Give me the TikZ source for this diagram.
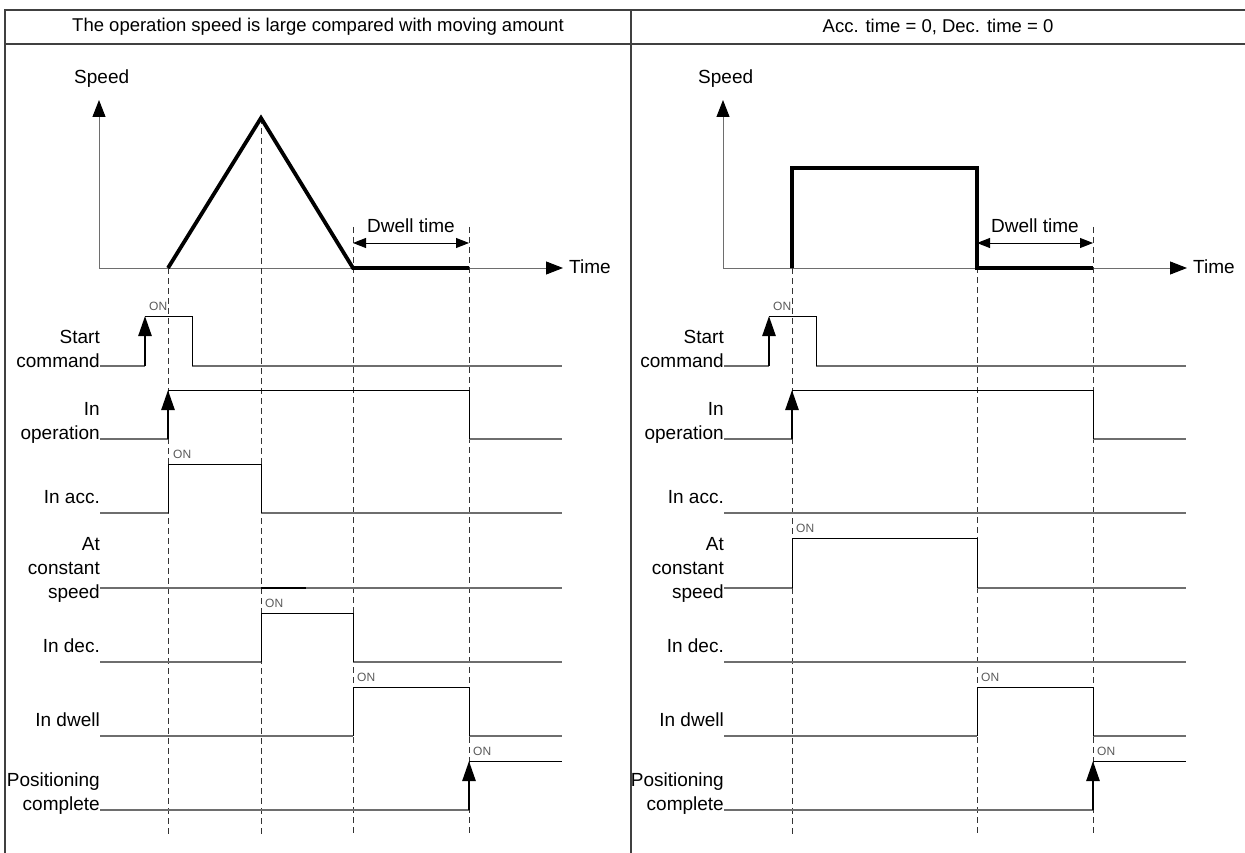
\documentclass[tikz,border=0pt]{standalone}
\usepackage{fontspec}
\setmainfont{Liberation Sans}
\usetikzlibrary{arrows.meta}
\definecolor{sigline}{HTML}{6E6E6E}
\definecolor{ontext}{HTML}{5A5A5A}
\definecolor{framecol}{HTML}{404040}

\begin{document}
\begin{tikzpicture}[x=1pt, y=-1pt,
      every node/.style={font=\fontsize{19}{24}\selectfont, inner sep=0pt},
      frame/.style={framecol, line width=1.1pt},
      headtext/.style={font=\fontsize{18.5}{22}\selectfont},
      axis/.style={sigline, line width=1pt, -{Triangle[length=17pt, width=13pt, color=black]}},
      profile/.style={line width=3.8pt},
      guide/.style={black!80, line width=0.9pt, dash pattern=on 6pt off 4pt},
      low/.style={sigline, line width=1.3pt},
      high/.style={black, line width=1pt},
      rise/.style={line width=2.6pt, -{Triangle[length=20pt, width=13pt]}},
      sigtag/.style={anchor=base east, align=right},
      ontag/.style={anchor=base west, font=\fontsize{12}{14}\selectfont, text=ontext},
      dwellarrow/.style={line width=0.9pt, {Triangle[length=13pt, width=10pt]}-{Triangle[length=13pt, width=10pt]}}]

    \useasboundingbox (0,0) rectangle (1245,853);

    % table frame
    \draw[frame] (5,853) -- (5,10) -- (1245,10);
    \draw[frame] (5,44) -- (1245,44);
    \draw[frame] (631,10) -- (631,853);
    \node[headtext] (headL) at (318,27) {The operation speed is large compared with moving amount};
    \node[headtext] (headR) at (938,27) {Acc. time = 0, Dec. time = 0};

    % parts common to both panels
    \foreach \ox/\p in {0/l, 624/r} {
      \draw[axis] (99+\ox,268) -- (99+\ox,100);
      \draw[axis] (99+\ox,268) -- (563+\ox,268);
      \node[anchor=base west] (\p-speed) at (74+\ox,84) {Speed};
      \node[anchor=base west] (\p-time) at (569+\ox,273) {Time};
      \node[sigtag] (\p-start) at (100+\ox,367) {Start\\command};
      \node[sigtag] (\p-oper) at (100+\ox,439) {In\\operation};
      \node[sigtag] (\p-acc) at (100+\ox,503) {In acc.};
      \node[sigtag] (\p-const) at (100+\ox,598) {At\\constant\\speed};
      \node[sigtag] (\p-dec) at (100+\ox,652) {In dec.};
      \node[sigtag] (\p-dwell) at (100+\ox,726) {In dwell};
      \node[sigtag] (\p-pos) at (100+\ox,810) {Positioning\\complete};
    }

    % left panel: triangular profile
    \foreach \gx/\gy in {168/268, 261/118, 353/227, 469/227}
      \draw[guide] (\gx,\gy) -- (\gx,835);
    \draw[profile] (168,268) -- (261,118) -- (353,268) -- (469,268);
    \draw[dwellarrow] (353,243) -- (469,243);
    \node[anchor=base] (l-dwelltime) at (411,233) {Dwell time};

    \draw[low] (100,366) -- (145,366) (192,366) -- (562,366);
    \draw[high] (145,316) -- (192,316) -- (192,366);
    \draw[rise] (145,366) -- (145,316);
    \node[ontag] at (149,310) {ON};

    \draw[low] (100,439) -- (168,439) (469,439) -- (562,439);
    \draw[high] (168,390) -- (469,390) -- (469,439);
    \draw[rise] (168,439) -- (168,390);

    \draw[low] (100,513) -- (168,513) (261,513) -- (562,513);
    \draw[high] (168,513) -- (168,464) -- (261,464) -- (261,513);
    \node[ontag] at (173,458) {ON};

    \draw[low] (100,588) -- (562,588);
    \draw[high, line width=1.4pt] (261,588) -- (306,588);

    \draw[low] (100,662) -- (261,662) (353,662) -- (562,662);
    \draw[high] (261,662) -- (261,613) -- (353,613) -- (353,662);
    \node[ontag] at (265,607) {ON};

    \draw[low] (100,736) -- (353,736) (469,736) -- (562,736);
    \draw[high] (353,736) -- (353,687) -- (469,687) -- (469,736);
    \node[ontag] at (357,681) {ON};

    \draw[low] (100,810) -- (469,810);
    \draw[high] (469,761) -- (562,761);
    \draw[rise] (469,810) -- (469,761);
    \node[ontag] at (473,755) {ON};

    % right panel: rectangular profile
    \foreach \gx/\gy in {792/268, 977/227, 1093/227}
      \draw[guide] (\gx,\gy) -- (\gx,835);
    \draw[profile] (792,268) -- (792,168) -- (977,168) -- (977,268) -- (1093,268);
    \draw[dwellarrow] (977,243) -- (1093,243);
    \node[anchor=base] (r-dwelltime) at (1035,233) {Dwell time};

    \draw[low] (724,366) -- (769,366) (816,366) -- (1186,366);
    \draw[high] (769,316) -- (816,316) -- (816,366);
    \draw[rise] (769,366) -- (769,316);
    \node[ontag] at (773,310) {ON};

    \draw[low] (724,439) -- (792,439) (1093,439) -- (1186,439);
    \draw[high] (792,390) -- (1093,390) -- (1093,439);
    \draw[rise] (792,439) -- (792,390);

    \draw[low] (724,513) -- (1186,513);

    \draw[low] (724,588) -- (792,588) (977,588) -- (1186,588);
    \draw[high] (792,588) -- (792,538) -- (977,538) -- (977,588);
    \node[ontag] at (796,532) {ON};

    \draw[low] (724,662) -- (1186,662);

    \draw[low] (724,736) -- (977,736) (1093,736) -- (1186,736);
    \draw[high] (977,736) -- (977,687) -- (1093,687) -- (1093,736);
    \node[ontag] at (981,681) {ON};

    \draw[low] (724,810) -- (1093,810);
    \draw[high] (1093,761) -- (1186,761);
    \draw[rise] (1093,810) -- (1093,761);
    \node[ontag] at (1097,755) {ON};
  \end{tikzpicture}
\end{document}
